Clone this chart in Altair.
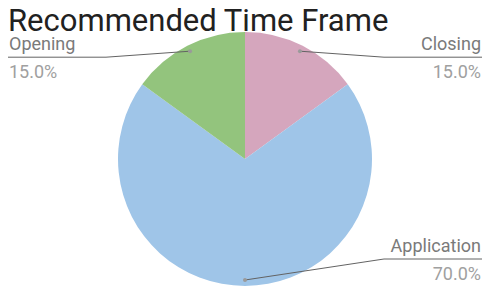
import math
import altair as alt
import pandas as pd

# ---- data ----
title_text = "Recommended Time Frame"
categories = ["Closing", "Application", "Opening"]
values = [15, 70, 15]
colors = ["#d5a6bd", "#9fc5e8", "#93c47d"]

# ---- layout (pixels in plot frame) ----
W, H = 475, 278
CX, CY, R = 237, 151, 127
DOT_R = R - 6
LEFT_EDGE, RIGHT_EDGE = 0, 474
LINE_LEN = 98
YMAX = H - 27
FONT = "Roboto"

total = sum(values)
rows, line_rows = [], []
cum = 0
for i, (c, v) in enumerate(zip(categories, values)):
    mid = (cum + v / 2) / total * 2 * math.pi
    cum += v
    dx = CX + DOT_R * math.sin(mid)
    dy = CY - DOT_R * math.cos(mid)
    side = "right" if mid < math.pi + 1e-9 else "left"
    ly = min(dy + 6, YMAX)
    edge = RIGHT_EDGE if side == "right" else LEFT_EDGE
    elbow = edge - LINE_LEN if side == "right" else edge + LINE_LEN
    pct = f"{v / total * 100:.1f}%"
    rows.append(dict(cat=c, val=v, idx=i, dx=dx, dy=dy, side=side, ly=ly,
                     edge=edge, name_y=ly - 7, pct_y=ly + 21, pct=pct))
    for k, (px, py) in enumerate([(dx, dy), (elbow, ly), (edge, ly)]):
        line_rows.append(dict(cat=c, k=k, px=px, py=py))

df = pd.DataFrame(rows)
lines = pd.DataFrame(line_rows)

base = alt.Chart(df)

pie = base.mark_arc(radius=R).encode(
    theta=alt.Theta("val:Q", stack=True),
    order=alt.Order("idx:Q"),
    color=alt.Color("cat:N", scale=alt.Scale(domain=categories, range=colors), legend=None),
    x=alt.value(CX),
    y=alt.value(CY),
)

leaders = alt.Chart(lines).mark_line(color="#636363", strokeWidth=1).encode(
    x=alt.X("px:Q", scale=None),
    y=alt.Y("py:Q", scale=None),
    detail="cat:N",
    order="k:Q",
)

dots = base.mark_circle(size=16, color="#9a9a9a", opacity=1).encode(
    x=alt.X("dx:Q", scale=None),
    y=alt.Y("dy:Q", scale=None),
)

def labels(side):
    b = base.transform_filter(alt.datum.side == side)
    name = b.mark_text(align=side, baseline="alphabetic", font=FONT, fontSize=18,
                       color="#7a7a7a", dx=(-1 if side == "right" else 1)).encode(
        x=alt.X("edge:Q", scale=None), y=alt.Y("name_y:Q", scale=None), text="cat:N")
    pct = b.mark_text(align=side, baseline="alphabetic", font=FONT, fontSize=18,
                      color="#a0a0a0", dx=(-1 if side == "right" else 1)).encode(
        x=alt.X("edge:Q", scale=None), y=alt.Y("pct_y:Q", scale=None), text="pct:N")
    return name + pct

title = alt.Chart(pd.DataFrame({"t": [title_text]})).mark_text(
    align="left", baseline="alphabetic", font=FONT, fontSize=31, color="#212121"
).encode(x=alt.value(0), y=alt.value(23), text="t:N")

chart = alt.layer(pie, leaders, dots, labels("left"), labels("right"), title).properties(
    width=W, height=H, padding=0, autosize=alt.AutoSizeParams(type="none")
).configure_view(stroke=None)

chart.save("out.html", embed_options={"renderer": "svg", "actions": False})
